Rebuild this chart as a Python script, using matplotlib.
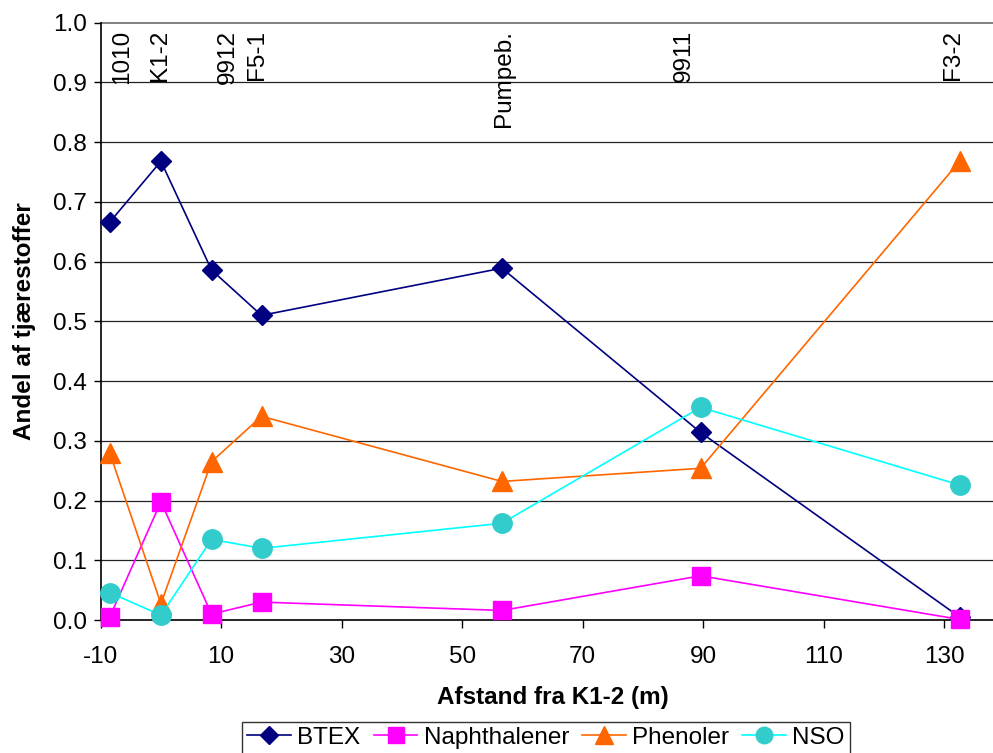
import matplotlib
matplotlib.use("Agg")
import matplotlib.pyplot as plt

plt.rcParams['font.family'] = ['Liberation Sans', 'DejaVu Sans']

# Distance from K1-2 (m) for each well
distance = [-8.5, 0.0, 8.4, 16.7, 56.6, 89.6, 132.6]
wells = ["1010", "K1-2", "9912", "F5-1", "Pumpeb.", "9911", "F3-2"]
# x positions of the well name labels along the top
label_x = [-6.5, -0.15, 11.1, 16.0, 57.0, 86.8, 131.5]

btex = [0.666, 0.768, 0.586, 0.510, 0.589, 0.314, 0.005]
naphthalener = [0.005, 0.198, 0.010, 0.030, 0.016, 0.074, 0.001]
phenoler = [0.280, 0.027, 0.265, 0.341, 0.232, 0.254, 0.768]
nso = [0.046, 0.008, 0.135, 0.120, 0.162, 0.356, 0.226]

x_ticks = [-10, 10, 30, 50, 70, 90, 110, 130]
y_ticks = [0.0, 0.1, 0.2, 0.3, 0.4, 0.5, 0.6, 0.7, 0.8, 0.9, 1.0]

FS = 17.5

fig = plt.figure(figsize=(9.93, 7.53), dpi=100)
ax = fig.add_axes([0.1014, 0.1766, 0.9099, 0.7933])

ax.set_xlim(-10, 140)
ax.set_ylim(0, 1.0)

for y in y_ticks[1:]:
    ax.axhline(y, color='#808080' if y == 1.0 else '#222222', lw=0.9 if y < 1.0 else 1.4,
               zorder=1, clip_on=False)

lw = 1.2
ax.plot(distance, btex, color='#000080', marker='D', ms=10.5, lw=lw,
        label='BTEX', zorder=3, clip_on=False)
ax.plot(distance, naphthalener, color='#FF00FF', marker='s', ms=13, lw=lw,
        label='Naphthalener', zorder=3, clip_on=False)
ax.plot(distance, phenoler, color='#FF6600', marker='^', ms=15, lw=lw,
        label='Phenoler', zorder=3, clip_on=False)
ax.plot(distance, nso, color='#00FFFF', marker='o', ms=14, lw=lw,
        markerfacecolor='#33CCCC', markeredgecolor='#33CCCC',
        label='NSO', zorder=3, clip_on=False)

for xl, name in zip(label_x, wells):
    ax.text(xl, 0.988, name, rotation=90, ha='center', va='top',
            fontsize=FS, color='black')

ax.set_xticks(x_ticks)
ax.set_xticklabels([str(v) for v in x_ticks])
ax.set_yticks(y_ticks)
ax.set_yticklabels([f"{v:.1f}" for v in y_ticks])
ax.tick_params(axis='both', labelsize=FS, direction='out',
               width=1, color='black')
ax.tick_params(axis='x', length=6, pad=13)
ax.tick_params(axis='y', length=5, pad=5)

for side in ('top', 'right'):
    ax.spines[side].set_visible(False)
for side in ('left', 'bottom'):
    ax.spines[side].set_color('black')
    ax.spines[side].set_linewidth(1.2)

ax.set_xlabel('Afstand fra K1-2 (m)', fontsize=FS, fontweight='bold',
              labelpad=13)
ax.set_ylabel('Andel af tjærestoffer', fontsize=FS, fontweight='bold',
              labelpad=12)

leg = ax.legend(loc='upper center', bbox_to_anchor=(546 / 993, 1 - 722 / 753),
                bbox_transform=fig.transFigure, ncol=4, fontsize=FS,
                frameon=True, fancybox=False, edgecolor='black',
                handlelength=1.8, handletextpad=0.25, columnspacing=0.55,
                borderpad=0.2, borderaxespad=0, markerscale=0.85)
leg.get_frame().set_linewidth(1.0)

fig.savefig('out.png', dpi=100)
